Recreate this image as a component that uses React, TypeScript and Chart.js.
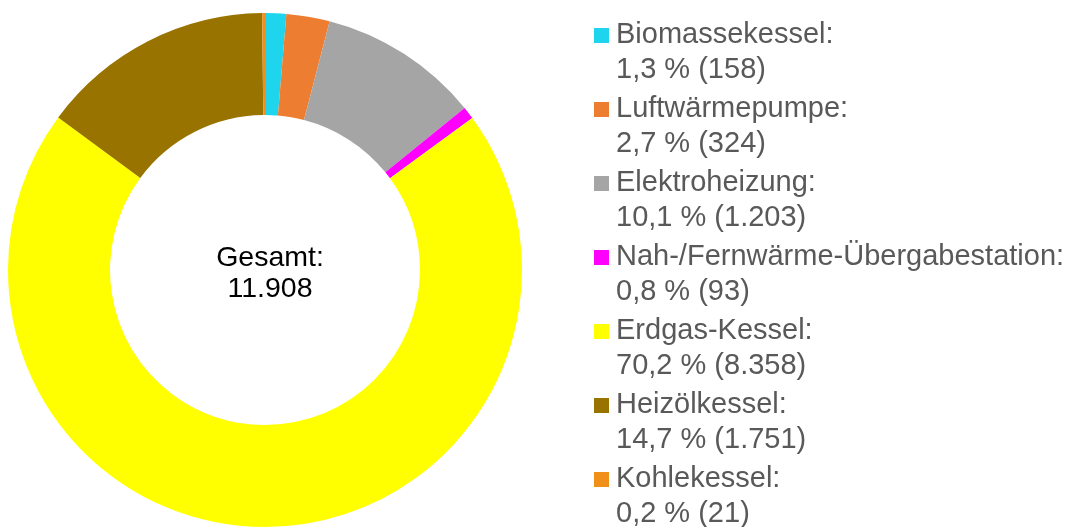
import React, { useEffect, useRef } from "react";
import { Chart, registerables } from "chart.js";

Chart.register(...registerables);

const categories = [
  "Biomassekessel",
  "Luftwärmepumpe",
  "Elektroheizung",
  "Nah-/Fernwärme-Übergabestation",
  "Erdgas-Kessel",
  "Heizölkessel",
  "Kohlekessel",
];
const values = [158, 324, 1203, 93, 8358, 1751, 21];
const colors = ["#1FD5EE", "#ED7D31", "#A5A5A5", "#FF00FF", "#FFFF00", "#997300", "#F0901A"];
const centerLabel = "Gesamt:";

const FONT = "'Liberation Sans', Arial, sans-serif";

const fmtInt = (n: number) => n.toString().replace(/\B(?=(\d{3})+(?!\d))/g, ".");
const fmtPct = (n: number) => n.toFixed(1).replace(".", ",");

const overlayPlugin = {
  id: "overlay",
  afterDraw(chart: any) {
    const ctx = chart.ctx as CanvasRenderingContext2D;
    const data = chart.data.datasets[0].data as number[];
    const bg = chart.data.datasets[0].backgroundColor as string[];
    const labels = chart.data.labels as string[];
    const total = data.reduce((a, b) => a + b, 0);
    ctx.save();
    // center text
    const meta = chart.getDatasetMeta(0);
    const arc = meta.data[0];
    const cx = arc.x;
    const cy = arc.y;
    ctx.fillStyle = "#000000";
    ctx.font = `28.5px ${FONT}`;
    ctx.textAlign = "center";
    ctx.textBaseline = "alphabetic";
    ctx.fillText(centerLabel, cx + 5, 266);
    ctx.fillText(fmtInt(total), cx + 5, 297);
    // legend
    ctx.textAlign = "left";
    ctx.font = `29px ${FONT}`;
    const boxX = 594;
    const textX = 616;
    let base = 43;
    labels.forEach((lab, i) => {
      ctx.fillStyle = bg[i];
      ctx.fillRect(boxX, base - 15, 15, 15);
      ctx.fillStyle = "#595959";
      ctx.fillText(lab + ":", textX, base);
      ctx.fillText(`${fmtPct((data[i] / total) * 100)} % (${fmtInt(data[i])})`, textX, base + 34.5);
      base += 74;
    });
    ctx.restore();
  },
};

export default function App() {
  const ref = useRef<HTMLCanvasElement | null>(null);
  useEffect(() => {
    document.body.style.margin = "0";
    const canvas = ref.current!;
    const chart = new Chart(canvas, {
      type: "doughnut",
      data: {
        labels: categories,
        datasets: [
          {
            data: values,
            backgroundColor: colors,
            borderWidth: 0,
          },
        ],
      },
      options: {
        responsive: false,
        animation: false,
        cutout: "60.3%",
        layout: { padding: { left: 8, right: 549, top: 13, bottom: 0 } },
        plugins: {
          legend: { display: false },
          tooltip: { enabled: false },
        },
      },
      plugins: [overlayPlugin],
    });
    return () => chart.destroy();
  }, []);
  return (
    <div style={{ width: 1071, height: 527, background: "#ffffff" }}>
      <canvas ref={ref} width={1071} height={527} style={{ display: "block" }} />
    </div>
  );
}
